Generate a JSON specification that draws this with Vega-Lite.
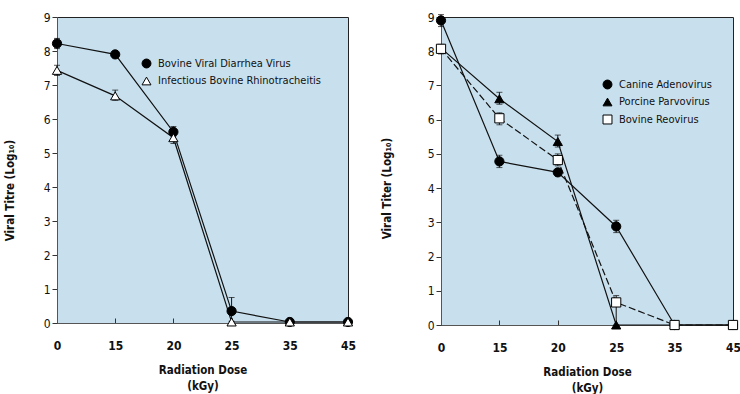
{
  "$schema": "https://vega.github.io/schema/vega-lite/v6.json",
  "autosize": {"type": "pad"},
  "padding": {"left": 3, "top": 10, "right": 0, "bottom": 0},
  "background": "white",
  "spacing": 93,
  "bounds": "flush",
  "config": {
    "font": "DejaVu Sans Condensed, Liberation Sans, sans-serif",
    "view": {"fill": "#c8e0ee", "stroke": "#222", "strokeWidth": 1},
    "axis": {
      "grid": false,
      "domainColor": "#555",
      "tickColor": "#333",
      "labelColor": "#111",
      "titleColor": "#111",
      "labelFont": "DejaVu Sans Condensed, Liberation Sans, sans-serif",
      "titleFont": "DejaVu Sans Condensed, Liberation Sans, sans-serif",
      "labelFontSize": 12,
      "titleFontSize": 11.5
    },
    "axisY": {"tickCount": 10, "tickSize": 5, "labelPadding": 2, "titleFontWeight": "bold"},
    "legend": {
      "labelFont": "DejaVu Sans Condensed, Liberation Sans, sans-serif",
      "labelFontSize": 11,
      "labelColor": "#111",
      "labelLimit": 400,
      "symbolStrokeWidth": 1,
      "symbolSize": 80,
      "rowPadding": 4.5,
      "labelOffset": 6
    }
  },
  "datasets": {
    "left": [
      {"virus": "Bovine Viral Diarrhea Virus", "dose": 0, "titre": 8.22, "lo": 8.07, "hi": 8.37},
      {"virus": "Bovine Viral Diarrhea Virus", "dose": 15, "titre": 7.9, "lo": 7.85, "hi": 7.95},
      {"virus": "Bovine Viral Diarrhea Virus", "dose": 20, "titre": 5.62, "lo": 5.5, "hi": 5.78},
      {"virus": "Bovine Viral Diarrhea Virus", "dose": 25, "titre": 0.35, "lo": 0.05, "hi": 0.75},
      {"virus": "Bovine Viral Diarrhea Virus", "dose": 35, "titre": 0.03, "lo": null, "hi": null},
      {"virus": "Bovine Viral Diarrhea Virus", "dose": 45, "titre": 0.03, "lo": null, "hi": null},
      {"virus": "Infectious Bovine Rhinotracheitis", "dose": 0, "titre": 7.43, "lo": 7.28, "hi": 7.58},
      {"virus": "Infectious Bovine Rhinotracheitis", "dose": 15, "titre": 6.68, "lo": 6.55, "hi": 6.85},
      {"virus": "Infectious Bovine Rhinotracheitis", "dose": 20, "titre": 5.45, "lo": 5.28, "hi": 5.6},
      {"virus": "Infectious Bovine Rhinotracheitis", "dose": 25, "titre": 0.03, "lo": null, "hi": null},
      {"virus": "Infectious Bovine Rhinotracheitis", "dose": 35, "titre": 0.03, "lo": null, "hi": null},
      {"virus": "Infectious Bovine Rhinotracheitis", "dose": 45, "titre": 0.03, "lo": null, "hi": null}
    ],
    "right": [
      {"virus": "Canine Adenovirus", "dose": 0, "titer": 8.9, "lo": 8.72, "hi": 9.07},
      {"virus": "Canine Adenovirus", "dose": 15, "titer": 4.78, "lo": 4.6, "hi": 4.96},
      {"virus": "Canine Adenovirus", "dose": 20, "titer": 4.46, "lo": 4.4, "hi": 4.52},
      {"virus": "Canine Adenovirus", "dose": 25, "titer": 2.88, "lo": 2.7, "hi": 3.06},
      {"virus": "Canine Adenovirus", "dose": 35, "titer": 0, "lo": null, "hi": null},
      {"virus": "Canine Adenovirus", "dose": 45, "titer": 0, "lo": null, "hi": null},
      {"virus": "Porcine Parvovirus", "dose": 0, "titer": 8.09, "lo": null, "hi": null},
      {"virus": "Porcine Parvovirus", "dose": 15, "titer": 6.61, "lo": 6.45, "hi": 6.8},
      {"virus": "Porcine Parvovirus", "dose": 20, "titer": 5.36, "lo": 5.2, "hi": 5.55},
      {"virus": "Porcine Parvovirus", "dose": 25, "titer": 0, "lo": null, "hi": null},
      {"virus": "Porcine Parvovirus", "dose": 35, "titer": 0, "lo": null, "hi": null},
      {"virus": "Porcine Parvovirus", "dose": 45, "titer": 0, "lo": null, "hi": null},
      {"virus": "Bovine Reovirus", "dose": 0, "titer": 8.07, "lo": 7.92, "hi": 8.2},
      {"virus": "Bovine Reovirus", "dose": 15, "titer": 6.04, "lo": 5.85, "hi": 6.2},
      {"virus": "Bovine Reovirus", "dose": 20, "titer": 4.82, "lo": 4.65, "hi": 5.0},
      {"virus": "Bovine Reovirus", "dose": 25, "titer": 0.66, "lo": 0.0, "hi": 0.86},
      {"virus": "Bovine Reovirus", "dose": 35, "titer": 0, "lo": null, "hi": null},
      {"virus": "Bovine Reovirus", "dose": 45, "titer": 0, "lo": null, "hi": null}
    ]
  },
  "hconcat": [
    {
      "width": 291,
      "height": 306,
      "data": {"name": "left"},
      "encoding": {
        "x": {
          "field": "dose", "type": "ordinal", "sort": [0, 15, 20, 25, 35, 45],
          "scale": {"type": "point", "padding": 0},
          "axis": {"labelAngle": 0, "labelFontWeight": "bold", "tickSize": -5, "labelPadding": 22,
                   "title": ["Radiation Dose", "(kGy)"], "titleFontWeight": "bold", "titlePadding": 13, "titleLineHeight": 16}
        }
      },
      "layer": [
        {
          "transform": [{"filter": "isValid(datum.lo)"}],
          "mark": {"type": "rule", "color": "#111", "strokeWidth": 1},
          "encoding": {
            "y": {"field": "lo", "type": "quantitative", "scale": {"domain": [0, 9], "nice": false},
                  "axis": {"title": "Viral Titre (Log₁₀)", "titleX": -42, "titleY": 173}},
            "y2": {"field": "hi"}
          }
        },
        {
          "transform": [{"filter": "isValid(datum.lo)"}, {"fold": ["lo", "hi"], "as": ["end", "val"]}],
          "mark": {"type": "tick", "color": "#111", "orient": "horizontal", "size": 6, "thickness": 1},
          "encoding": {"y": {"field": "val", "type": "quantitative"}}
        },
        {
          "mark": {"type": "line", "color": "#111", "strokeWidth": 1.2},
          "encoding": {
            "y": {"field": "titre", "type": "quantitative"},
            "detail": {"field": "virus"}
          }
        },
        {
          "mark": {"type": "point", "strokeWidth": 1, "opacity": 1, "filled": false, "size": 85},
          "encoding": {
            "y": {"field": "titre", "type": "quantitative"},
            "shape": {
              "field": "virus", "type": "nominal",
              "scale": {"domain": ["Bovine Viral Diarrhea Virus", "Infectious Bovine Rhinotracheitis"], "range": ["circle", "triangle-up"]},
              "legend": {"title": null, "orient": "none", "legendX": 84, "legendY": 41}
            },
            "fill": {
              "field": "virus", "type": "nominal",
              "scale": {"domain": ["Bovine Viral Diarrhea Virus", "Infectious Bovine Rhinotracheitis"], "range": ["black", "white"]},
              "legend": {"title": null, "orient": "none", "legendX": 84, "legendY": 41}
            },
            "stroke": {
              "field": "virus", "type": "nominal",
              "scale": {"domain": ["Bovine Viral Diarrhea Virus", "Infectious Bovine Rhinotracheitis"], "range": ["black", "black"]},
              "legend": {"title": null, "orient": "none", "legendX": 84, "legendY": 41}
            }
          }
        }
      ]
    },
    {
      "width": 292,
      "height": 308,
      "data": {"name": "right"},
      "encoding": {
        "x": {
          "field": "dose", "type": "ordinal", "sort": [0, 15, 20, 25, 35, 45],
          "scale": {"type": "point", "padding": 0},
          "axis": {"labelAngle": 0, "labelFontWeight": "bold", "tickSize": -5, "labelPadding": 22,
                   "title": ["Radiation Dose", "(kGy)"], "titleFontWeight": "bold", "titlePadding": 13, "titleLineHeight": 16}
        }
      },
      "layer": [
        {
          "transform": [{"filter": "isValid(datum.lo)"}],
          "mark": {"type": "rule", "color": "#111", "strokeWidth": 1},
          "encoding": {
            "y": {"field": "lo", "type": "quantitative", "scale": {"domain": [0, 9], "nice": false},
                  "axis": {"title": "Viral Titer (Log₁₀)", "titleX": -49, "titleY": 171}},
            "y2": {"field": "hi"}
          }
        },
        {
          "transform": [{"filter": "isValid(datum.lo)"}, {"fold": ["lo", "hi"], "as": ["end", "val"]}],
          "mark": {"type": "tick", "color": "#111", "orient": "horizontal", "size": 6, "thickness": 1},
          "encoding": {"y": {"field": "val", "type": "quantitative"}}
        },
        {
          "transform": [{"filter": "datum.virus !== 'Bovine Reovirus'"}],
          "mark": {"type": "line", "color": "#111", "strokeWidth": 1.2},
          "encoding": {
            "y": {"field": "titer", "type": "quantitative"},
            "detail": {"field": "virus"}
          }
        },
        {
          "transform": [{"filter": "datum.virus === 'Bovine Reovirus'"}],
          "mark": {"type": "line", "color": "#111", "strokeWidth": 1.2, "strokeDash": [7, 3]},
          "encoding": {
            "y": {"field": "titer", "type": "quantitative"}
          }
        },
        {
          "mark": {"type": "point", "strokeWidth": 1, "opacity": 1, "filled": false, "size": 85},
          "encoding": {
            "y": {"field": "titer", "type": "quantitative"},
            "shape": {
              "field": "virus", "type": "nominal",
              "scale": {"domain": ["Canine Adenovirus", "Porcine Parvovirus", "Bovine Reovirus"], "range": ["circle", "triangle-up", "square"]},
              "legend": {"title": null, "orient": "none", "legendX": 161, "legendY": 62}
            },
            "fill": {
              "field": "virus", "type": "nominal",
              "scale": {"domain": ["Canine Adenovirus", "Porcine Parvovirus", "Bovine Reovirus"], "range": ["black", "black", "white"]},
              "legend": {"title": null, "orient": "none", "legendX": 161, "legendY": 62}
            },
            "stroke": {
              "field": "virus", "type": "nominal",
              "scale": {"domain": ["Canine Adenovirus", "Porcine Parvovirus", "Bovine Reovirus"], "range": ["black", "black", "black"]},
              "legend": {"title": null, "orient": "none", "legendX": 161, "legendY": 62}
            }
          }
        }
      ]
    }
  ],
  "resolve": {"scale": {"shape": "independent", "fill": "independent", "stroke": "independent", "y": "independent"}, "legend": {"shape": "independent", "fill": "independent", "stroke": "independent"}}
}
